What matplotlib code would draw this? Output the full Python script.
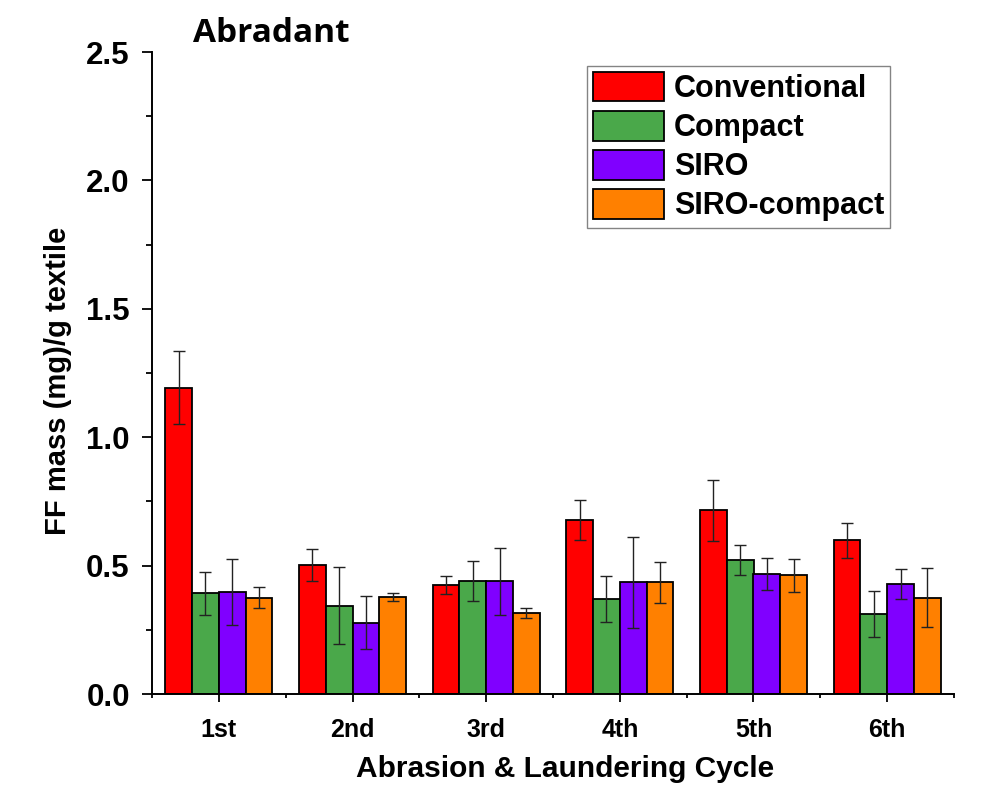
import matplotlib
matplotlib.use("Agg")
import matplotlib.pyplot as plt
import numpy as np
from matplotlib.ticker import MultipleLocator, FixedLocator

cycles = ["1st", "2nd", "3rd", "4th", "5th", "6th"]
series = ["Conventional", "Compact", "SIRO", "SIRO-compact"]
colors = ["#FF0000", "#4AA84A", "#8000FF", "#FF8000"]

conventional = [1.193, 0.502, 0.424, 0.678, 0.715, 0.598]
compact      = [0.392, 0.343, 0.441, 0.370, 0.523, 0.312]
siro         = [0.397, 0.278, 0.439, 0.435, 0.467, 0.428]
siro_compact = [0.375, 0.379, 0.315, 0.435, 0.462, 0.374]

conventional_err = [0.142, 0.063, 0.035, 0.077, 0.120, 0.068]
compact_err      = [0.083, 0.150, 0.077, 0.090, 0.058, 0.090]
siro_err         = [0.127, 0.104, 0.130, 0.177, 0.062, 0.057]
siro_compact_err = [0.040, 0.015, 0.020, 0.080, 0.063, 0.115]

values = [conventional, compact, siro, siro_compact]
errors = [conventional_err, compact_err, siro_err, siro_compact_err]

plt.rcParams['font.family'] = ['Liberation Sans', 'DejaVu Sans']
plt.rcParams['font.weight'] = 'bold'

fig = plt.figure(figsize=(9.93, 7.85), dpi=100)
ax = fig.add_axes([152/993, 1-694/785, (954-152)/993, (694-52)/785])

x = np.arange(1, len(cycles) + 1)
w = 0.2
for i, (vals, errs, c, name) in enumerate(zip(values, errors, colors, series)):
    pos = x + (i - 1.5) * w
    ax.bar(pos, vals, width=w, color=c, edgecolor='black', linewidth=1.3, label=name, zorder=2)
    ax.errorbar(pos, vals, yerr=errs, fmt='none', ecolor='#222222', elinewidth=1.0,
                capsize=4.5, capthick=1.0, zorder=3)

ax.set_xlim(0.5, 6.5)
ax.set_ylim(0, 2.5)
ax.yaxis.set_major_locator(MultipleLocator(0.5))
ax.yaxis.set_minor_locator(MultipleLocator(0.25))
ax.set_xticks(x)
ax.set_xticklabels(cycles)
ax.xaxis.set_minor_locator(FixedLocator(np.arange(0.5, 7.0, 1.0)))
ax.yaxis.set_major_formatter(matplotlib.ticker.FormatStrFormatter('%.1f'))

for s in ['top', 'right']:
    ax.spines[s].set_visible(False)
for s in ['left', 'bottom']:
    ax.spines[s].set_linewidth(1.4)

ax.tick_params(axis='y', which='major', direction='out', length=7, width=1.3, labelsize=22.5, pad=9)
ax.tick_params(axis='y', which='minor', direction='out', length=4, width=1.3)
ax.tick_params(axis='x', which='major', direction='out', length=6, width=1.3, labelsize=18, pad=11)
ax.tick_params(axis='x', which='minor', direction='out', length=3, width=1.3)
for lab in ax.get_xticklabels() + ax.get_yticklabels():
    lab.set_fontweight('bold')

ax.set_ylabel("FF mass (mg)/g textile", fontsize=21, fontweight='bold')
ax.yaxis.set_label_coords((72-152)/(954-152), (694-381)/(694-52))
ax.set_xlabel("Abrasion & Laundering Cycle", fontsize=21.5, fontweight='bold', va='top')
ax.xaxis.set_label_coords((565-152)/(954-152), -(755-694)/(694-52))

fig.text(271/993, 1-33/785, "Abradant", fontsize=24, fontweight='bold',
         family=['Open Sans', 'DejaVu Sans'], ha='center', va='center')

leg = ax.legend(loc='upper right', bbox_to_anchor=(890/993, 1-66/785),
                bbox_transform=fig.transFigure, borderaxespad=0, fontsize=22,
                handlelength=2.3, handleheight=1.1, labelspacing=0.23, handletextpad=0.33,
                borderpad=0.2, fancybox=False, frameon=True, edgecolor='#666666')
leg.get_frame().set_linewidth(1.0)
for t in leg.get_texts():
    t.set_fontweight('bold')

fig.savefig("out.png", dpi=100)
